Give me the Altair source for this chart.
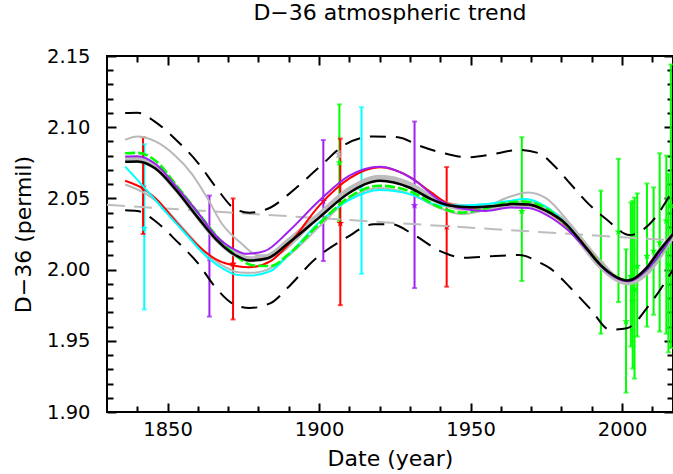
import altair as alt
import pandas as pd

FONT = "DejaVu Sans"
X_DOMAIN = [1830, 2016.8]
Y_DOMAIN = [1.90, 2.15]

# tick positions (every one gets an inward frame tick; multiples of 50 / 0.05 are labelled)
X_TICKS = [1840, 1850, 1860, 1870, 1880, 1890, 1900, 1910, 1920, 1930,
           1940, 1950, 1960, 1970, 1980, 1990, 2000, 2010]
Y_TICKS = [1.90, 1.91, 1.92, 1.93, 1.94, 1.95, 1.96, 1.97, 1.98, 1.99,
           2.00, 2.01, 2.02, 2.03, 2.04, 2.05, 2.06, 2.07, 2.08, 2.09,
           2.10, 2.11, 2.12, 2.13, 2.14, 2.15]

# ---- smooth curves ----
BLACK_YEARS = [1836, 1840, 1846, 1853, 1860, 1866, 1872, 1877, 1883, 1890, 1900, 1910, 1920, 1930,
               1937, 1943, 1950, 1957, 1964, 1969, 1975, 1981, 1986, 1993, 2002, 2008, 2012, 2016.8]
BLACK_VALS = [2.0758, 2.0760, 2.0710, 2.0554, 2.0365, 2.0212, 2.0106, 2.0064, 2.0080, 2.0189, 2.0365,
              2.0540, 2.0624, 2.0575, 2.0495, 2.0450, 2.0438, 2.0445, 2.0460, 2.0458, 2.0412, 2.0330,
              2.0210, 2.0030, 1.9923, 2.0010, 2.0125, 2.0250]

BAND_VALS = [2.0770, 2.0772, 2.0722, 2.0566, 2.0377, 2.0222, 2.0114, 2.0072, 2.0088, 2.0200, 2.0380,
             2.0560, 2.0645, 2.0595, 2.0505, 2.0452, 2.0436, 2.0442, 2.0458, 2.0460, 2.0416, 2.0334,
             2.0208, 2.0024, 1.9910, 1.9995, 2.0110, 2.0240]

UPPER_YEARS = [1836, 1840, 1846, 1853, 1860, 1866, 1872, 1877, 1884, 1890, 1900, 1909, 1918, 1926,
               1933, 1942, 1949, 1958, 1966, 1973, 1977, 1983, 1989, 1995, 2002.5, 2009, 2016.8]
UPPER_VALS = [2.1100, 2.1102, 2.1036, 2.0907, 2.0750, 2.0577, 2.0430, 2.0400, 2.0436, 2.0530, 2.0718,
              2.0883, 2.0935, 2.0930, 2.0871, 2.0813, 2.0789, 2.0813, 2.0841, 2.0813, 2.0742, 2.0601,
              2.0460, 2.0350, 2.0243, 2.0318, 2.0560]

LOWER_YEARS = [1836, 1840, 1846, 1853, 1860, 1866, 1872, 1877, 1884, 1890, 1898, 1909, 1918, 1924,
               1931, 1940, 1948, 1958, 1966, 1973, 1976, 1983, 1989.5, 1996, 2001.6, 2009, 2016.8]
LOWER_VALS = [2.0417, 2.0412, 2.0340, 2.0200, 2.0045, 1.9870, 1.9755, 1.9730, 1.9765, 1.9880, 2.0060,
              2.0224, 2.0318, 2.0318, 2.0248, 2.0130, 2.0083, 2.0095, 2.0102, 2.0047, 2.0012, 1.9871,
              1.9724, 1.9577, 1.9588, 1.9753, 2.0000]

TREND_YEARS = [1830, 2016.8]
TREND_VALS = [2.0455, 2.0205]

GRAYUP_YEARS = [1836, 1840, 1846, 1852, 1858, 1863, 1868, 1874, 1880, 1886, 1892, 1900, 1910, 1920,
                1930, 1940, 1947, 1955, 1962, 1969, 1975, 1983, 1993, 2002, 2008, 2016.8]
GRAYUP_VALS = [2.0912, 2.0935, 2.0900, 2.0810, 2.0672, 2.0506, 2.0320, 2.0190, 2.0100, 2.0105, 2.0200,
               2.0380, 2.0570, 2.0650, 2.0590, 2.0470, 2.0420, 2.0440, 2.0505, 2.0542, 2.0500, 2.0318,
               2.0060, 1.9905, 1.9965, 2.0220]

GRAYLO_YEARS = [1836, 1843, 1850, 1856, 1862, 1868, 1874, 1878, 1884, 1890, 1900, 1910, 1920, 1930,
                1940, 1947, 1955, 1965, 1972, 1980, 1990, 2002, 2008, 2016.8]
GRAYLO_VALS = [2.0598, 2.0530, 2.0410, 2.0270, 2.0130, 2.0030, 1.9980, 1.9978, 2.0010, 2.0100, 2.0300,
               2.0500, 2.0573, 2.0530, 2.0430, 2.0390, 2.0420, 2.0475, 2.0460, 2.0340, 2.0110, 1.9900,
               1.9960, 2.0230]

PURPLE_YEARS = [1836, 1840, 1846, 1853, 1860, 1866, 1872, 1876, 1882, 1890, 1900, 1910, 1920, 1931,
                1940, 1948, 1955, 1963, 1969, 1975, 1982, 1989, 1995, 2002, 2008, 2016.8]
PURPLE_VALS = [2.0794, 2.0796, 2.0742, 2.0577, 2.0400, 2.0236, 2.0142, 2.0111, 2.0130, 2.0270, 2.0483,
               2.0660, 2.0723, 2.0636, 2.0483, 2.0425, 2.0412, 2.0436, 2.0432, 2.0385, 2.0280, 2.0125,
               1.9985, 1.9918, 1.9995, 2.0245]

RED_YEARS = [1836, 1843, 1846.5, 1853, 1860, 1866, 1873, 1877, 1884, 1890, 1900, 1910, 1920, 1930,
             1937, 1943, 1950, 1957, 1964, 1969, 1975, 1982, 1989, 1995, 2002, 2008, 2016.8]
RED_VALS = [2.0624, 2.0554, 2.0490, 2.0330, 2.0170, 2.0071, 2.0024, 2.0017, 2.0060, 2.0177, 2.0448,
            2.0640, 2.0718, 2.0650, 2.0542, 2.0460, 2.0436, 2.0445, 2.0460, 2.0458, 2.0412, 2.0300,
            2.0135, 1.9990, 1.9923, 2.0005, 2.0245]

GREEN_YEARS = [1836, 1840, 1846, 1853, 1860, 1866, 1872, 1878, 1884, 1890, 1900, 1910, 1920, 1930,
               1940, 1947, 1955, 1962, 1968, 1975, 1982, 1989, 1995, 2002, 2008, 2016.8]
GREEN_VALS = [2.0817, 2.0820, 2.0765, 2.0589, 2.0400, 2.0240, 2.0110, 2.0030, 2.0025, 2.0110, 2.0320,
              2.0510, 2.0589, 2.0550, 2.0436, 2.0400, 2.0430, 2.0470, 2.0478, 2.0430, 2.0300, 2.0130,
              1.9990, 1.9925, 1.9995, 2.0245]

CYAN_YEARS = [1836, 1843, 1849.6, 1856, 1862, 1868, 1873, 1877, 1884, 1890, 1900, 1910, 1920, 1930,
              1940, 1948, 1955, 1962, 1968, 1975, 1982, 1989, 1995, 2002, 2008, 2016.8]
CYAN_VALS = [2.0723, 2.0560, 2.0400, 2.0250, 2.0110, 2.0010, 1.9963, 1.9958, 1.9990, 2.0106, 2.0330,
             2.0490, 2.0559, 2.0530, 2.0450, 2.0450, 2.0460, 2.0480, 2.0495, 2.0440, 2.0310, 2.0130,
             1.9990, 1.9925, 1.9995, 2.0245]

# ---- measurements with error bars ----
ERR_SERIES = ["cyan", "red", "purple", "red", "purple", "green", "gray", "red", "cyan", "purple",
              "red", "green", "green", "green", "green", "green", "green", "green", "green", "green",
              "green", "green", "green", "green", "green"]
ERR_YEAR = [1842.3, 1841.9, 1863.8, 1871.6, 1901.4, 1906.7, 1906.5, 1907.0, 1914.0, 1931.5,
            1942.1, 1966.9, 1993.0, 1998.8, 2001.3, 2002.9, 2003.5, 2004.1, 2005.0, 2008.2,
            2010.4, 2012.4, 2014.6, 2015.3, 2016.1]
ERR_VAL = [2.029, 2.058, 2.008, 2.004, 2.048, 2.075, 2.081, 2.0326, 2.0555, 2.045,
           2.030, 2.041, 2.0047, 2.0266, 1.9636, 1.9953, 1.9777, 1.9860, 2.0024, 2.0095,
           2.0130, 2.0189, 2.0342, 2.0036, 2.0450]
ERR_LO = [1.972, 2.025, 1.967, 1.965, 2.006, 2.034, 2.079, 1.975, 1.997, 1.987,
          1.988, 1.992, 1.955, 1.9772, 1.9136, 1.9460, 1.9306, 1.9235, 1.9530, 1.9600,
          1.9683, 1.9565, 1.9550, 1.9419, 1.9450]
ERR_HI = [2.088, 2.093, 2.052, 2.050, 2.091, 2.116, 2.083, 2.092, 2.114, 2.104,
          2.072, 2.093, 2.0554, 2.0778, 2.0142, 2.0471, 2.0483, 2.0506, 2.0535, 2.0605,
          2.0577, 2.0817, 2.0800, 2.0672, 2.1440]

SERIES_NAMES = ["red", "cyan", "purple", "green", "gray"]
SERIES_COLORS = ["#ff0000", "#00ffff", "#a020f0", "#00ff00", "#b8b8b8"]

STAR = ("M0,-1L0.235,-0.324L0.951,-0.309L0.38,0.124L0.588,0.809L0,0.4L-0.588,0.809"
        "L-0.38,0.124L-0.951,-0.309L-0.235,-0.324Z")

# ---- build tables ----
curve_specs = [
    ("trend", TREND_YEARS, TREND_VALS),
    ("upper", UPPER_YEARS, UPPER_VALS),
    ("lower", LOWER_YEARS, LOWER_VALS),
    ("grayup", GRAYUP_YEARS, GRAYUP_VALS),
    ("graylo", GRAYLO_YEARS, GRAYLO_VALS),
    ("band", BLACK_YEARS, BAND_VALS),
    ("red", RED_YEARS, RED_VALS),
    ("cyan", CYAN_YEARS, CYAN_VALS),
    ("green", GREEN_YEARS, GREEN_VALS),
    ("purple", PURPLE_YEARS, PURPLE_VALS),
    ("black", BLACK_YEARS, BLACK_VALS),
]
rows = []
for name, yrs, vs in curve_specs:
    for i, (yr, v) in enumerate(zip(yrs, vs)):
        rows.append({"series": name, "year": yr, "value": v, "order": i})
curves = pd.DataFrame(rows)

errs = pd.DataFrame({"series": ERR_SERIES, "year": ERR_YEAR, "val": ERR_VAL,
                     "lo": ERR_LO, "hi": ERR_HI})

W, H = 566, 356
xs = alt.Scale(domain=X_DOMAIN, nice=False, zero=False)
ys = alt.Scale(domain=Y_DOMAIN, nice=False, zero=False)
cs = alt.Scale(domain=SERIES_NAMES, range=SERIES_COLORS)

X_MAJOR = "datum.value % 50 === 0"
Y_MAJOR = "abs(round(datum.value * 100)) % 5 === 0"

# grid lines dashed so that only short inward ticks show at both frame edges
XAX = alt.Axis(orient="bottom", values=X_TICKS, format="d",
               labelExpr=X_MAJOR + " ? datum.label : ''",
               ticks=False, tickSize=0, domain=False,
               labelPadding=8.5, labelFont=FONT, labelFontSize=19.5, labelColor="black",
               labelFlush=False, labelOverlap=False,
               grid=True, gridColor="black", gridOpacity=1, gridWidth=2,
               gridDash={"condition": {"test": X_MAJOR, "value": [9, H - 18, 9]},
                         "value": [6, H - 12, 6]},
               title="Date (year)", titleFont=FONT,
               titleFontSize=22, titleFontWeight="normal", titleColor="black",
               titleX=283, titleY=46, titleBaseline="middle", titleAlign="center")
YAX = alt.Axis(orient="left", values=Y_TICKS, format=".2f",
               labelExpr=Y_MAJOR + " ? datum.label : ''",
               ticks=False, tickSize=0, domain=False,
               labelPadding=17, labelFont=FONT, labelFontSize=19.5, labelColor="black",
               labelFlush=False, labelOverlap=False,
               grid=True, gridColor="black", gridOpacity=1, gridWidth=2,
               gridDash={"condition": {"test": Y_MAJOR, "value": [9, W - 18, 9]},
                         "value": [6, W - 12, 6]},
               title="D\u221236 (permil)", titleFont=FONT,
               titleFontSize=22, titleFontWeight="normal", titleColor="black",
               titleX=-84, titleY=178, titleAngle=270, titleBaseline="middle",
               titleAlign="center")


def X(field):
    return alt.X(field, scale=xs, axis=XAX)


def Y(field):
    return alt.Y(field, scale=ys, axis=YAX)


base_err = alt.Chart(errs)
color_enc = alt.Color("series:N", scale=cs, legend=None)

err_rules = base_err.mark_rule(strokeWidth=2).encode(
    x=X("year:Q"), y=Y("lo:Q"), y2="hi:Q", color=color_enc,
)
err_lo = base_err.mark_tick(orient="horizontal", size=5, thickness=2).encode(
    x=X("year:Q"), y=Y("lo:Q"), color=color_enc,
)
err_hi = base_err.mark_tick(orient="horizontal", size=5, thickness=2).encode(
    x=X("year:Q"), y=Y("hi:Q"), color=color_enc,
)
err_pts = base_err.mark_point(shape=STAR, size=64, filled=True, opacity=1, strokeWidth=0).encode(
    x=X("year:Q"), y=Y("val:Q"), color=color_enc,
)


def curve(name, color, width, dash=None):
    kw = dict(color=color, strokeWidth=width, interpolate="monotone")
    if dash is not None:
        kw["strokeDash"] = dash
    return alt.Chart(curves[curves.series == name]).mark_line(**kw).encode(
        x=X("year:Q"), y=Y("value:Q"), order="order:Q",
    )


layers = [
    err_rules, err_lo, err_hi, err_pts,
    curve("trend", "#bdbdbd", 2, [18, 9]),
    curve("upper", "black", 2, [16, 10]),
    curve("lower", "black", 2, [16, 10]),
    curve("grayup", "#b8b8b8", 2),
    curve("graylo", "#b8b8b8", 2),
    curve("band", "#bcbcbc", 6),
    curve("red", "#ff0000", 2),
    curve("cyan", "#00ffff", 2),
    curve("green", "#00ff00", 2.6, [10, 3]),
    curve("purple", "#a020f0", 2),
    curve("black", "black", 2.5),
]

chart = alt.layer(*layers).properties(
    width=W,
    height=H,
    title=alt.TitleParams("D\u221236 atmospheric trend", font=FONT, fontSize=22,
                          fontWeight="normal", color="black", anchor="middle",
                          baseline="alphabetic", offset=4),
    autosize=alt.AutoSizeParams(type="none"),
    padding={"left": 107, "top": 56, "right": 0, "bottom": 62},
    background="white",
).configure_view(stroke="black", strokeWidth=2)

chart.save("out.html", embed_options={"renderer": "svg", "actions": False})
